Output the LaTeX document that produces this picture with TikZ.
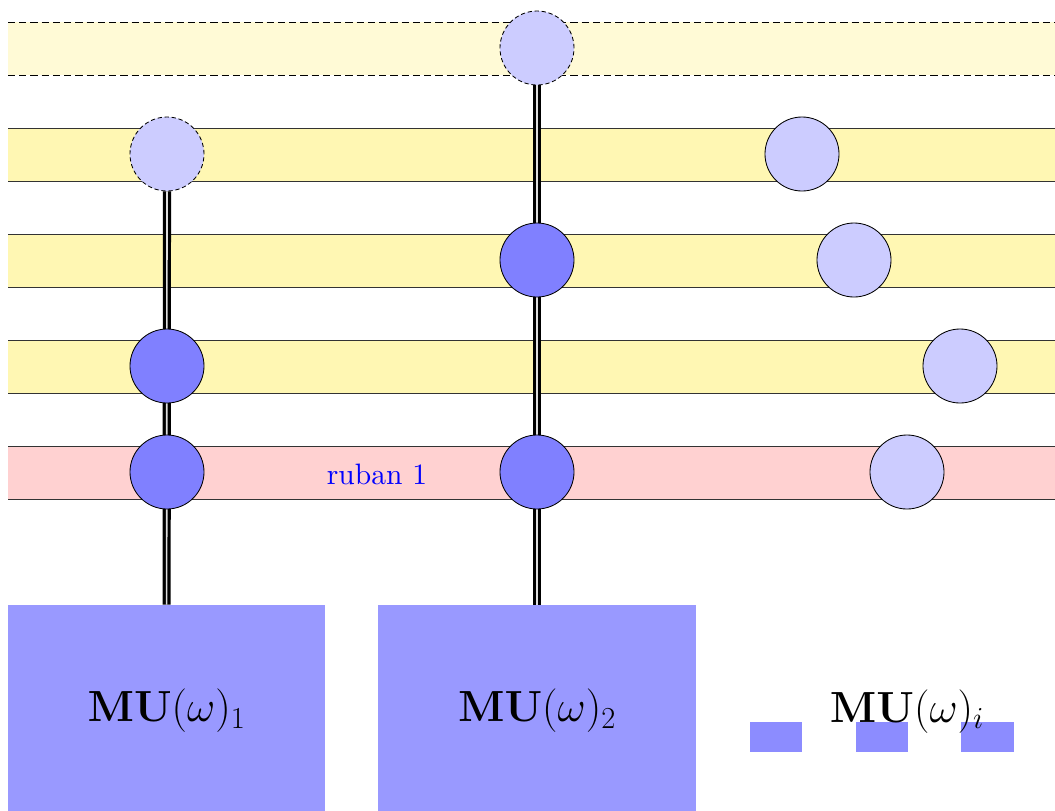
\RequirePackage{fix-cm}
\documentclass[tikz,border=0pt]{standalone}
\usetikzlibrary{backgrounds}
\pgfdeclarelayer{bands}
\pgfdeclarelayer{links}
\pgfsetlayers{bands,links,main}
\definecolor{bandY}{RGB}{255,247,179}
\definecolor{bandYl}{RGB}{255,250,214}
\definecolor{bandR}{RGB}{255,209,209}
\definecolor{darkC}{RGB}{128,128,255}
\definecolor{lightC}{RGB}{204,204,255}
\definecolor{boxC}{RGB}{153,153,255}
\definecolor{smallC}{RGB}{140,140,255}
\tikzset{
  bandline/.style={draw=black!80,line width=0.6pt},
  banddash/.style={draw=black,line width=0.6pt,dash pattern=on 5pt off 3pt},
  circ/.style={circle,minimum size=1.85cm,inner sep=0pt,draw=black,line width=0.6pt},
  darkc/.style={circ,fill=darkC},
  lightc/.style={circ,fill=lightC},
  dashc/.style={circ,fill=lightC,dash pattern=on 3pt off 2pt},
  dbl/.style={draw=black,line width=2.3pt,double=gray!25,double distance=1.2pt},
  mubox/.style={rectangle,fill=boxC,minimum width=7.925cm,minimum height=5.3cm,inner sep=0pt,font=\fontsize{31}{36}\selectfont},
  smallbox/.style={rectangle,fill=smallC,minimum width=1.3cm,minimum height=0.75cm,inner sep=0pt},
}
\begin{document}
\begin{tikzpicture}[x=0.025cm,y=-0.025cm]
\useasboundingbox (0,0) rectangle (1055,811);
\clip (0,0) rectangle (1055,811);
\begin{pgfonlayer}{bands}
  \fill[bandYl] (8,22) rectangle (1080,75);
  \draw[banddash] (8,22) -- (1080,22) (8,75) -- (1080,75);
  \foreach \y in {128,234,340}{
    \fill[bandY] (8,\y) rectangle (1080,\y+53);
    \draw[bandline] (8,\y) -- (1080,\y) (8,\y+53) -- (1080,\y+53);
  }
  \fill[bandR] (8,446) rectangle (1080,499);
  \draw[bandline] (8,446) -- (1080,446) (8,499) -- (1080,499);
\end{pgfonlayer}
\node[text=blue,inner sep=0pt] (r1) at (377,474) {\scalebox{2.1}{\fontsize{10}{12}\selectfont ruban 1}};
\node[dashc] (a1) at (167,154) {};
\node[darkc] (a2) at (167,366) {};
\node[darkc] (a3) at (167,472) {};
\node[dashc] (b1) at (537,48) {};
\node[darkc] (b2) at (537,260) {};
\node[darkc] (b3) at (537,472) {};
\node[lightc] (l1) at (802,154) {};
\node[lightc] (l2) at (854,260) {};
\node[lightc] (l3) at (960,366) {};
\node[lightc] (l4) at (907,472) {};
\node[mubox] (m1) at (166.5,711) {$\mathbf{MU}(\omega)_1$};
\node[mubox] (m2) at (537,711) {$\mathbf{MU}(\omega)_2$};
\node[smallbox] (s1) at (776,737) {};
\node[smallbox] (s2) at (882,737) {};
\node[smallbox] (s3) at (987.5,737) {};
\node[anchor=base,inner sep=0pt,font=\fontsize{31}{36}\selectfont] (mi) at (907,722) {$\mathbf{MU}(\omega)_i$};
\begin{pgfonlayer}{links}
  \draw[dbl] (a1) -- (m1);
  \draw[dbl] (b1) -- (m2);
\end{pgfonlayer}
\end{tikzpicture}
\end{document}
